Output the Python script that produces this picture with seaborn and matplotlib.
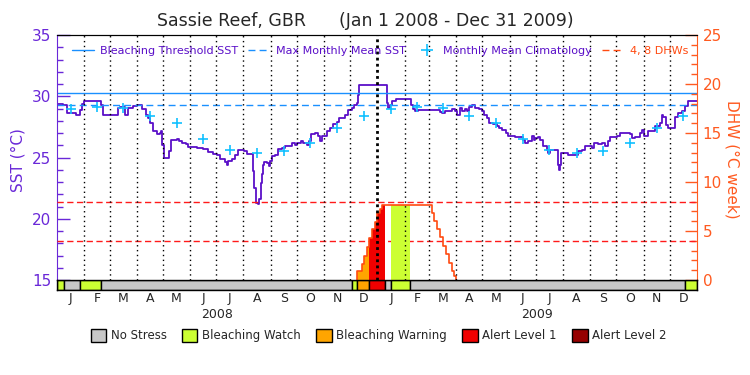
import numpy as np
import pandas as pd
import matplotlib
matplotlib.use('Agg')
import matplotlib.pyplot as plt
from matplotlib.lines import Line2D
from matplotlib.patches import Patch
import seaborn as sns

sns.set_style('white')
plt.rcParams['font.family'] = ['DejaVu Sans']

# x axis: days since Jan 1 2008 (731 = Jan 1 2010)
sst_day = [0, 7, 11, 20.6, 21.3, 26.3, 28.2, 31.2, 49.1, 50.3, 53, 60.5, 68.1, 70.1, 72,
           77.7, 81.5, 87.2, 91, 96.7, 101.3, 104.3, 106.2, 110, 113.9, 117.7, 118.8,
           120.3, 122.6, 127.2, 127.9, 129.8, 136.7, 139.4, 142.4, 147.4, 150, 159.5,
           167.2, 172.9, 178, 180.5, 182.4, 186, 191.9, 193.8, 195.7, 199.5, 203.3,
           207.1, 210.9, 214, 216.6, 223.1, 224.3, 225.4, 226.9, 229.9, 231.1, 232.6,
           233.8, 234.9, 236.8, 239.5, 242.2, 243.3, 245.2, 249, 252.1, 256.6, 260.4,
           264.2, 268, 271.8, 273.7, 278.7, 281.3, 285.1, 287.8, 290.1, 294.6, 297.7,
           300.3, 303, 308, 311.8, 315.6, 319.4, 322.1, 325.9, 328.9, 332.7, 336.5,
           339.6, 342.3, 343.4, 345.3, 374.6, 376.5, 378.4, 380.3, 383, 386.8, 401.3,
           404.3, 407, 408.9, 412.7, 435.5, 437.5, 439.4, 443.2, 448.9, 451.6, 454.6,
           457.3, 460.3, 463, 466, 467.9, 470.6, 473.6, 477.4, 482, 485, 488.1, 490.7,
           493.4, 498.3, 502.1, 504.8, 508.6, 512.4, 515.5, 523.1, 529.9, 532.6, 534.5,
           537.6, 542.1, 544.8, 546, 549, 551.7, 555.5, 559.3, 561.2, 563.1, 570.7,
           571.9, 572.6, 573.4, 574.5, 575.7, 581, 584.1, 589.8, 591.7, 595.5, 599.3,
           603.1, 608.8, 610.7, 613.8, 618.3, 622.1, 626, 629, 631.7, 639.3, 643.1,
           648.1, 654.5, 657.2, 660.2, 665.9, 668.6, 670.9, 675.5, 679.3, 683.1, 688.8,
           690.7, 692.6, 695.3, 698.3, 705.2, 705.9, 709.7, 713.5, 717.3, 720.4, 731]
sst_val = [29.36, 29.25, 28.60, 28.63, 28.50, 28.90, 29.36, 29.63, 29.63, 29.31, 28.44,
           28.44, 28.50, 29.04, 29.09, 28.44, 29.04, 29.17, 29.25, 28.98, 28.50, 28.23,
           27.82, 27.14, 26.92, 27.00, 27.14, 26.06, 24.97, 24.92, 25.52, 26.47, 26.55,
           26.33, 26.20, 26.12, 25.85, 25.80, 25.66, 25.45, 25.30, 25.30, 25.24, 24.85,
           24.65, 24.43, 24.71, 24.84, 25.20, 25.59, 25.64, 25.53, 25.31, 25.26, 23.91,
           22.53, 21.31, 21.18, 21.59, 22.94, 23.62, 24.43, 24.65, 24.57, 24.30, 24.71,
           25.12, 25.20, 25.66, 25.79, 25.98, 25.98, 26.20, 26.06, 26.20, 26.38, 26.20,
           26.06, 26.38, 26.92, 27.01, 26.73, 26.33, 26.73, 27.14, 27.41, 27.74, 27.90,
           28.23, 28.23, 28.50, 28.90, 29.04, 29.31, 29.44, 30.12, 30.93, 30.93, 29.44,
           29.04, 29.25, 29.63, 29.77, 29.77, 29.31, 28.98, 28.82, 28.90, 28.90, 28.71,
           28.63, 28.77, 28.82, 28.98, 28.77, 28.50, 29.04, 28.82, 28.98, 28.82, 29.09,
           29.25, 29.04, 28.98, 28.82, 28.50, 28.23, 27.82, 27.76, 27.55, 27.41, 27.28,
           27.01, 26.73, 26.68, 26.68, 26.46, 26.19, 26.33, 26.73, 26.46, 26.60, 26.68,
           26.46, 25.92, 25.65, 25.38, 25.65, 25.65, 25.11, 24.43, 24.02, 24.43, 25.38,
           25.38, 25.24, 25.20, 25.24, 25.52, 25.65, 25.92, 25.92, 25.79, 26.19, 26.11,
           26.19, 25.92, 26.33, 26.65, 26.73, 27.01, 27.01, 26.92, 26.60, 26.65, 27.01,
           27.28, 26.73, 27.14, 27.20, 27.55, 27.82, 28.44, 28.28, 27.68, 27.41, 27.41,
           28.28, 28.63, 28.77, 29.17, 29.63, 29.63]

clim_val = [28.98, 29.15, 29.07, 28.39, 27.79, 26.54, 25.59, 25.34, 25.53, 26.16, 27.43, 28.39]
mmm = 29.28
threshold = 30.28

dhw_day = [343.0, 343.0, 348.0, 350.6, 353.7, 356.3, 359.4, 363.2, 365.8, 368.9, 371.6,
           428.0, 431.0, 433.7, 437.5, 441.3, 444.0, 447.8, 450.8, 453.9, 455.4]
dhw_val = [0, 0.88, 1.63, 2.47, 3.32, 4.27, 5.18, 5.96, 6.88, 7.25, 7.66,
           6.88, 6.03, 5.18, 4.34, 3.49, 2.64, 1.69, 0.88, 0.45, 0]

stress_start = [0, 8.3, 26.6, 50.6, 336.6, 343.0, 356.7, 374.6, 381.8, 403.2, 717.3]
stress_end = [8.3, 26.6, 50.6, 336.6, 343.0, 356.7, 374.6, 381.8, 403.2, 717.3, 731]
stress_level = ['Bleaching Watch', 'No Stress', 'Bleaching Watch', 'No Stress',
                'Bleaching Watch', 'Bleaching Warning', 'Alert Level 1', 'No Stress',
                'Bleaching Watch', 'No Stress', 'Bleaching Watch']

levels = ['No Stress', 'Bleaching Watch', 'Bleaching Warning', 'Alert Level 1', 'Alert Level 2']
level_colors = ['#c8c8c8', '#ccff33', '#ffa500', '#f00000', '#960000']
month_letters = list('JFMAMJJASOND') * 2

c_sst = '#5a0fc8'
c_left = '#6a28d8'
c_thr = '#1a90ff'
c_clim = '#10c0ff'
c_dhw = '#ff4a10'
c_right = '#ff5a20'

mstart = pd.date_range('2008-01-01', '2010-01-01', freq='MS')
mday = np.array((mstart - mstart[0]).days, dtype=float)
mmid = (mday[:-1] + mday[1:]) / 2

fig = plt.figure(figsize=(7.5, 3.75), dpi=100)
ax = fig.add_axes([0.076, 0.2533, 0.8533, 0.6533])
ax2 = ax.twinx()
axb = fig.add_axes([0.076, 0.2267, 0.8533, 0.0267])

# SST side
df_sst = pd.DataFrame({'day': sst_day, 'sst': sst_val})
sns.lineplot(data=df_sst, x='day', y='sst', ax=ax, color=c_sst, lw=1.3,
             drawstyle='steps-post', estimator=None, sort=False, legend=False)
ax.axhline(threshold, color=c_thr, lw=1)
ax.axhline(mmm, color=c_thr, lw=1, dashes=(5, 3))
df_clim = pd.DataFrame({'day': mmid, 'clim': clim_val * 2})
sns.scatterplot(data=df_clim, x='day', y='clim', ax=ax, marker='+', s=55,
                color=c_clim, linewidth=1.2, legend=False, zorder=4)

ax.set_xlim(0, 731)
ax.set_ylim(15, 35)
ax.set_xticks([])
ax.set_xlabel(''); ax.set_ylabel('')
ax.set_yticks(range(15, 36, 5))
ax.set_yticks(range(15, 36), minor=True)
ax.tick_params(axis='y', which='major', direction='in', length=9, width=1,
               color=c_left, labelcolor=c_left, labelsize=11, pad=4)
ax.tick_params(axis='y', which='minor', direction='in', length=4.5, width=1, color=c_left)
ax.spines['left'].set_color(c_left)
ax.spines['right'].set_visible(False)
ax.spines['bottom'].set_visible(False)
ax.spines['top'].set_color('black')

# DHW side
ax2.axhline(4, color='#ff1a1a', lw=1, dashes=(4.5, 2.5), zorder=1)
ax2.axhline(8, color='#ff1a1a', lw=1, dashes=(4.5, 2.5), zorder=1)
dd = np.array(dhw_day); dv = np.array(dhw_val)
for s, e, lev in zip(stress_start, stress_end, stress_level):
    if lev == 'No Stress':
        continue
    inside = dd[(dd > s) & (dd < e)]
    xs = np.concatenate([[s], inside, [e]])
    idx = np.searchsorted(dd, xs, side='right') - 1
    ys = np.where(idx >= 0, dv[np.clip(idx, 0, None)], 0)
    ax2.fill_between(xs, 0, ys, step='post', color=level_colors[levels.index(lev)],
                     lw=0, zorder=2)
df_dhw = pd.DataFrame({'day': dhw_day, 'dhw': dhw_val})
sns.lineplot(data=df_dhw, x='day', y='dhw', ax=ax2, color=c_dhw, lw=1.2,
             drawstyle='steps-post', estimator=None, sort=False, legend=False, zorder=3)
for d in mday[1:-1]:
    if d == 366:
        ax2.axvline(d, color='black', lw=2, ls=(0, (1, 1.2)), zorder=5)
    else:
        ax2.axvline(d, color='black', lw=1, ls=(0, (1, 2.5)), zorder=5)

ax2.set_ylim(0, 25)
ax2.set_xlim(0, 731)
ax2.set_ylabel('')
ax2.set_yticks(range(0, 26, 5))
ax2.set_yticks(range(0, 26), minor=True)
ax2.tick_params(axis='y', which='major', direction='in', length=9, width=1,
                color=c_right, labelcolor=c_right, labelsize=11, pad=4)
ax2.tick_params(axis='y', which='minor', direction='in', length=4.5, width=1, color=c_right)
ax2.spines['right'].set_color(c_right)
ax2.spines['left'].set_visible(False)
ax2.spines['bottom'].set_visible(False)
ax2.spines['top'].set_color('black')

handles = [Line2D([], [], color=c_thr, lw=1),
           Line2D([], [], color=c_thr, lw=1, dashes=(5, 3)),
           Line2D([], [], color=c_clim, marker='+', ls='none', ms=8, mew=1.2),
           Line2D([], [], color=c_dhw, lw=1, dashes=(5, 3))]
labels = ['Bleaching Threshold SST', 'Max Monthly Mean SST',
          'Monthly Mean Climatology', '4, 8 DHWs']
leg = ax2.legend(handles, labels, loc='upper center', bbox_to_anchor=(0.505, 1.0),
                 ncol=4, frameon=False, fontsize=8, handlelength=2.0, handletextpad=0.5,
                 columnspacing=0.9, borderaxespad=0.55)
for t, c in zip(leg.get_texts(), [c_sst, c_sst, c_sst, c_dhw]):
    t.set_color(c)

# stress bar
for s, e, lev in zip(stress_start, stress_end, stress_level):
    axb.broken_barh([(s, e - s)], (0, 1), facecolors=level_colors[levels.index(lev)],
                    edgecolor='black', lw=1)
axb.set_xlim(0, 731)
axb.set_ylim(0, 1)
axb.set_yticks([])
axb.set_xticks(mmid)
axb.set_xticklabels(month_letters)
axb.tick_params(axis='x', length=0, pad=1.5, labelsize=9)
for sp in axb.spines.values():
    sp.set_color('black'); sp.set_linewidth(1)
axb.text(182.7, -2.45, '2008', transform=axb.get_xaxis_transform(), ha='center', va='center', fontsize=9)
axb.text(548, -2.45, '2009', transform=axb.get_xaxis_transform(), ha='center', va='center', fontsize=9)

fig.legend([Patch(fc=c, ec='black', lw=1) for c in level_colors], levels,
           loc='center', bbox_to_anchor=(0.505, 0.105), ncol=5, frameon=False,
           fontsize=8.5, handlelength=1.3, handleheight=1.3, handletextpad=0.4,
           columnspacing=1.3)

fig.text(0.487, 0.944, 'Sassie Reef, GBR      (Jan 1 2008 - Dec 31 2009)',
         ha='center', va='center', fontsize=12.5)
fig.text(0.024, 0.573, 'SST (°C)', rotation=90, ha='center', va='center',
         fontsize=11, color=c_left)
fig.text(0.976, 0.575, 'DHW (°C week)', rotation=270, ha='center', va='center',
         fontsize=11, color=c_right)

plt.savefig('out.png', dpi=100)
